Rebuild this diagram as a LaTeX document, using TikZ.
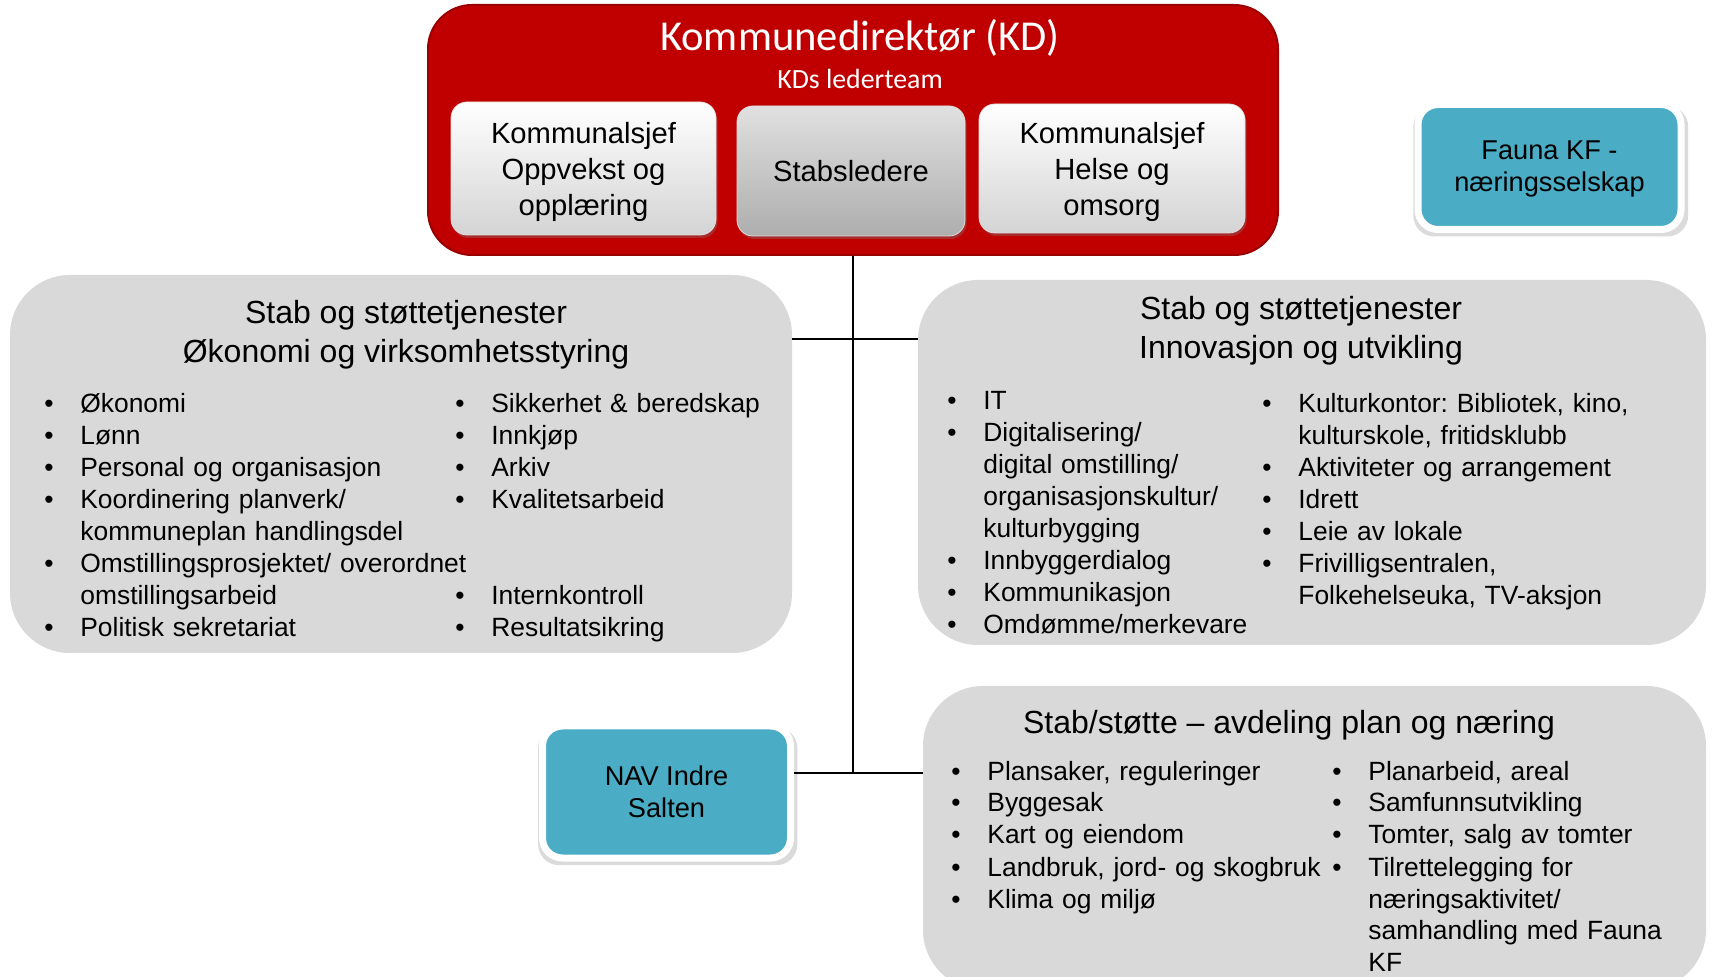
\documentclass[tikz,border=0pt]{standalone}
\usepackage{fontspec}
\setmainfont{Liberation Sans}
\newfontfamily\calibri{Carlito}
\usetikzlibrary{shadows}
\definecolor{kdred}{HTML}{C00000}
\definecolor{tealbox}{HTML}{4BACC6}
\definecolor{boxgray}{HTML}{D9D9D9}
\newcommand\bi{\makebox[18pt][l]{\textbullet}}
\newcommand\ci{\hspace*{18pt}}
\frenchspacing
\tikzset{
  graybox/.style={fill=boxgray, rounded corners=30pt, inner sep=0pt},
  redbox/.style={fill=kdred, draw=kdred!80!black, line width=1pt, rounded corners=22pt, inner sep=0pt},
  whitebtn/.style={rounded corners=8pt, top color=white, middle color=white, bottom color=black!17, draw=black!12, inner sep=0pt,
     drop shadow={shadow xshift=0.8pt, shadow yshift=-1.5pt, opacity=0.35}},
  graybtn/.style={whitebtn, top color=black!12, middle color=black!24, bottom color=black!32},
  btntext/.style={align=center, inner sep=0pt, font=\fontsize{14.6}{17.8}\selectfont},
  tealbtn/.style={fill=tealbox, draw=white, line width=3.5pt, rounded corners=10pt, inner sep=0pt,
     drop shadow={shadow xshift=0.6pt, shadow yshift=-2pt, opacity=0.28, shadow scale=1.045}},
  tealtext/.style={align=center, inner sep=0pt, font=\fontsize{13.6}{16.2}\selectfont},
  boxtitle/.style={align=center, inner sep=0pt, font=\fontsize{16}{19.5}\selectfont},
  lst/.style={anchor=base west, inner sep=0pt, text width=270pt, align=left, font=\fontsize{13.2}{16}\selectfont},
  conn/.style={draw=black, line width=1pt},
}
\begin{document}
\begin{tikzpicture}[x=0.5pt,y=-0.5pt]
\clip (0,0) rectangle (1713,977);
\fill[white] (0,0) rectangle (1713,977);

% gray boxes
\node[graybox, minimum width=391pt, minimum height=189pt] (okon) at (401,464) {};
\node[graybox, minimum width=394pt, minimum height=182.5pt] (innov) at (1312,462.5) {};
\node[graybox, minimum width=391.5pt, minimum height=152pt] (plan) at (1314.5,838) {};

% red box
\node[redbox, minimum width=425pt, minimum height=125pt] (kd) at (853,130) {};
\node[text=white, inner sep=0pt, font=\calibri\fontsize{21.3}{25}\selectfont] (kdtitle) at (860,38) {Kommunedirektør (KD)};
\node[text=white, inner sep=0pt, font=\calibri\fontsize{13.9}{16}\selectfont] (kdsub) at (860,79) {KDs lederteam};

\node[whitebtn, minimum width=132.5pt, minimum height=66.5pt] (oppv) at (583.5,168.5) {};
\node[btntext] (oppvt) at (583.5,172) {Kommunalsjef\\Oppvekst og\\opplæring};
\node[graybtn, minimum width=114pt, minimum height=65pt] (stab) at (851,171) {};
\node[btntext] (stabt) at (851,171) {Stabsledere};
\node[whitebtn, minimum width=133pt, minimum height=64.5pt] (helse) at (1112,168.5) {};
\node[btntext] (helset) at (1112,172) {Kommunalsjef\\Helse og\\omsorg};

% teal boxes
\node[tealbtn, minimum width=131.5pt, minimum height=62.5pt] (fauna) at (1549.5,167) {};
\node[tealtext] (faunat) at (1549.5,169) {Fauna KF -\\næringsselskap};
\node[tealbtn, minimum width=124pt, minimum height=66pt] (nav) at (666.5,792) {};
\node[tealtext] (navt) at (666.5,792) {NAV Indre\\Salten};

% connectors
\coordinate (j1) at (853,339);
\coordinate (j2) at (853,773);
\draw[conn] (kd.south) -- (j2);
\draw[conn] (okon.east |- j1) -- (innov.west |- j1);
\draw[conn] (nav.east |- j2) -- (plan.west |- j2);

% left box texts
\node[boxtitle] (okont) at (406,335) {Stab og støttetjenester\\Økonomi og virksomhetsstyring};
\node[lst] (okl) at (44,413) {\bi Økonomi\\\bi Lønn\\\bi Personal og organisasjon\\\bi Koordinering planverk/\\\ci kommuneplan handlingsdel\\\bi Omstillingsprosjektet/ overordnet\\\ci omstillingsarbeid\\\bi Politisk sekretariat};
\node[lst] (okr) at (455,413) {\bi Sikkerhet \& beredskap\\\bi Innkjøp\\\bi Arkiv\\\bi Kvalitetsarbeid\\\mbox{}\\\mbox{}\\\bi Internkontroll\\\bi Resultatsikring};

% right upper box texts
\node[boxtitle] (innovt) at (1301,331) {Stab og støttetjenester\\Innovasjon og utvikling};
\node[lst] (inl) at (947,410) {\bi IT\\\bi Digitalisering/\\\ci digital omstilling/\\\ci organisasjonskultur/\\\ci kulturbygging\\\bi Innbyggerdialog\\\bi Kommunikasjon\\\bi Omdømme/merkevare};
\node[lst] (inr) at (1262,413) {\bi Kulturkontor: Bibliotek, kino,\\\ci kulturskole, fritidsklubb\\\bi Aktiviteter og arrangement\\\bi Idrett\\\bi Leie av lokale\\\bi Frivilligsentralen,\\\ci Folkehelseuka, TV-aksjon};

% bottom box texts
\node[boxtitle] (plant) at (1289,725) {Stab/støtte – avdeling plan og næring};
\node[lst] (pll) at (951,780) {\bi Plansaker, reguleringer\\\bi Byggesak\\\bi Kart og eiendom\\\bi Landbruk, jord- og skogbruk\\\bi Klima og miljø};
\node[lst] (plr) at (1332,780) {\bi Planarbeid, areal\\\bi Samfunnsutvikling\\\bi Tomter, salg av tomter\\\bi Tilrettelegging for\\\ci næringsaktivitet/\\\ci samhandling med Fauna\\\ci KF};
\end{tikzpicture}
\end{document}
